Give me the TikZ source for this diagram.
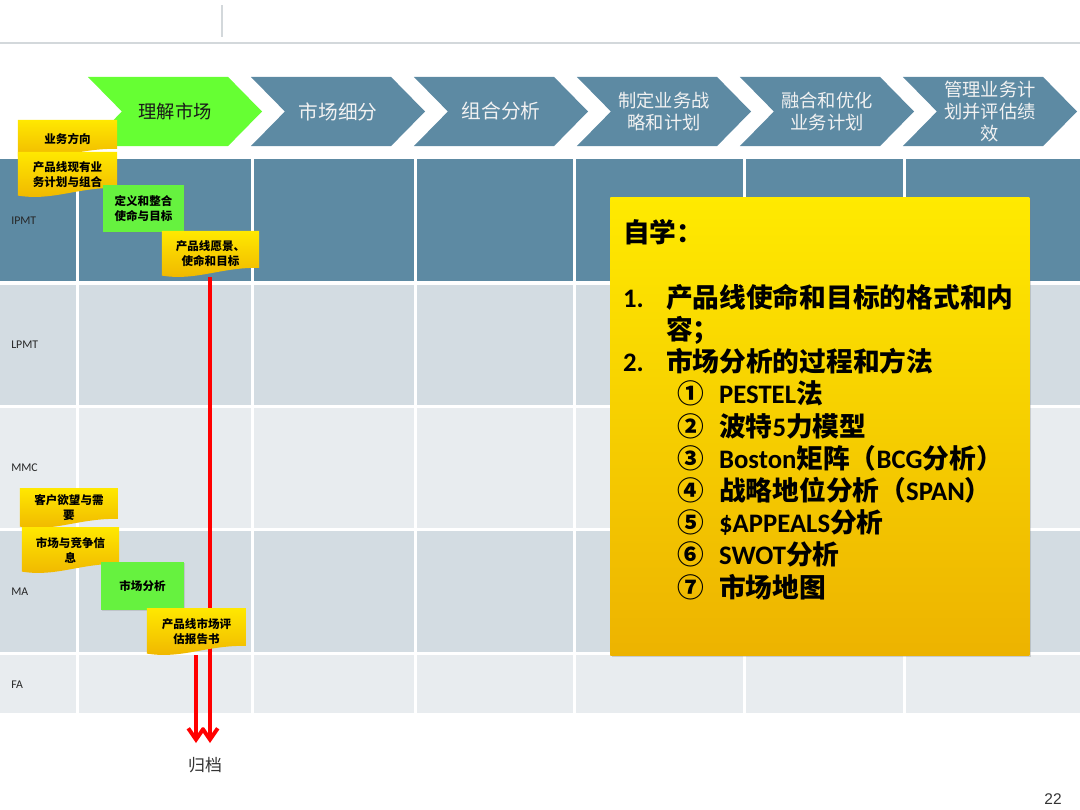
\documentclass[tikz,border=0pt]{standalone}
\usepackage{fontspec}
\setmainfont{Carlito}
\newfontfamily\cjk{Noto Sans CJK SC}
\newfontfamily\lat{Carlito}
\newfontfamily\arial{Liberation Sans}
\usetikzlibrary{shapes.symbols,arrows.meta,calc,shadows}

\definecolor{steel}{HTML}{5D8AA3}
\definecolor{paleA}{HTML}{D3DCE2}
\definecolor{paleB}{HTML}{E8ECEF}
\definecolor{lime}{HTML}{66FF33}
\definecolor{notegreen}{HTML}{66F23F}
\definecolor{notetop}{HTML}{FFE800}
\definecolor{notebot}{HTML}{EFB400}
\definecolor{boxtop}{HTML}{FFEA00}
\definecolor{boxbot}{HTML}{EDB300}
\definecolor{rule}{HTML}{D3D8DB}

\tikzset{
  phase/.style={signal, signal to=east, signal from=west, signal pointer angle=91,
    fill=steel, text=white!95!black, minimum width=4.35cm, minimum height=1.725cm,
    inner sep=0pt, align=center, font=\cjk\fontsize{13}{15.5}\selectfont},
  lane/.style={anchor=west, inner sep=0pt, text=black!85, font=\lat\fontsize{8.4}{10}\selectfont},
  note/.style={inner sep=0pt, align=center, font=\cjk\bfseries\fontsize{8.2}{10.7}\selectfont,
    path picture={
      \shade[top color=notetop, bottom color=notebot]
        (path picture bounding box.north west) -- (path picture bounding box.north east)
        -- ([yshift=6.5pt]path picture bounding box.south east)
        .. controls ($(path picture bounding box.south west)!0.6!(path picture bounding box.south east)+(0,7pt)$)
        and ($(path picture bounding box.south west)!0.35!(path picture bounding box.south east)+(0,-3pt)$)
        .. ([yshift=1pt]path picture bounding box.south west) -- cycle;}},
  gnote/.style={inner sep=0pt, align=center, fill=notegreen, font=\cjk\bfseries\fontsize{8.2}{10.7}\selectfont,
    drop shadow={opacity=0.25, shadow xshift=0.8pt, shadow yshift=-0.8pt}},
  archive/.style={draw=red, line width=2.8pt, -{Straight Barb[length=8pt,width=11pt]}}
}

\begin{document}
\begin{tikzpicture}[x=0.025cm,y=-0.025cm]
\useasboundingbox (0,0) rectangle (1080,810);
% header rules
\draw[rule, line width=0.9pt] (0,43) -- (1080,43);
\draw[rule, line width=1.2pt] (222,5) -- (222,37);

% phases
\node[phase, fill=lime, text=black!90] (p1) at (175,111.5) {理解市场};
\node[phase, font=\cjk\fontsize{14}{16}\selectfont] (p2) at (338,111.5) {市场细分};
\node[phase, font=\cjk\fontsize{14}{16}\selectfont] (p3) at (501,111.5) {组合分析};
\node[phase] (p4) at (664,111.5) {制定业务战\\略和计划};
\node[phase] (p5) at (827,111.5) {融合和优化\\业务计划};
\node[phase] (p6) at (990,111.5) {管理业务计\\划并评估绩\\效};

% swimlanes
\foreach \ya/\yb/\col in {159/281/steel, 285/405/paleA, 408/528/paleB, 531/652/paleA, 655/713/paleB}
  \foreach \xa/\xb in {0/75.5, 78.5/250.5, 253.5/413.5, 416.5/572.5, 575.5/742.5, 745.5/902.5, 905.5/1080}
    \fill[\col] (\xa,\ya) rectangle (\xb,\yb);
\node[lane] (ipmt) at (11,221) {IPMT};
\node[lane] (lpmt) at (11,345) {LPMT};
\node[lane] (mmc) at (11,468) {MMC};
\node[lane] (ma) at (11,592) {MA};
\node[lane] (fa) at (11,685) {FA};

% inputs and outputs
\node[note, minimum width=2.475cm, minimum height=0.95cm] (dir) at (67.5,139) {业务方向};
\node[note, minimum width=2.475cm, minimum height=1.125cm] (cur) at (67.5,174.5) {产品线现有业\\务计划与组合};
\node[gnote, minimum width=2.025cm, minimum height=1.175cm] (def) at (143.5,208.5) {定义和整合\\使命与目标};
\node[note, minimum width=2.425cm, minimum height=1.15cm] (vis) at (210.5,254) {产品线愿景、\\使命和目标};

% archive
\coordinate (fileL) at (196,743);
\coordinate (fileR) at (210,743);
\draw[archive] (vis.south -| fileR) -- (fileR);

\node[note, minimum width=2.45cm, minimum height=1cm] (want) at (69,508) {客户欲望与需\\要};
\node[note, minimum width=2.425cm, minimum height=1.15cm] (info) at (70.5,550) {市场与竞争信\\息};
\node[gnote, minimum width=2.075cm, minimum height=1.2cm] (ana) at (142.5,586) {市场分析};
\node[note, minimum width=2.475cm, minimum height=1.175cm] (rep) at (196.5,631.5) {产品线市场评\\估报告书};

\draw[archive] (rep.south -| fileL) -- (fileL);
\node[font=\cjk\fontsize{12}{14}\selectfont, text=black!80] (filelbl) at (205,765) {归档};

% self study
\node[minimum width=10.475cm, minimum height=11.45cm, top color=boxtop, bottom color=boxbot,
  drop shadow={opacity=0.3, shadow xshift=1.2pt, shadow yshift=-1.2pt}, anchor=north west] (study) at (610,197) {};
\node[anchor=north west, inner sep=0pt, align=left, font=\cjk\bfseries\fontsize{19}{22.9}\selectfont]
  (list) at ([xshift=0.32cm,yshift=-0.56cm]study.north west) {%
  自学：\\[22.9pt]
  \makebox[30.6pt][l]{\lat 1.}产品线使命和目标的格式和内\\
  \hspace*{30.6pt}容；\\
  \makebox[30.6pt][l]{\lat 2.}市场分析的过程和方法\\
  \hspace*{39pt}\makebox[29.3pt][l]{①}{\lat PESTEL}法\\
  \hspace*{39pt}\makebox[29.3pt][l]{②}波特{\lat 5}力模型\\
  \hspace*{39pt}\makebox[29.3pt][l]{③}{\lat Boston}矩阵（{\lat BCG}分析）\\
  \hspace*{39pt}\makebox[29.3pt][l]{④}战略地位分析（{\lat SPAN}）\\
  \hspace*{39pt}\makebox[29.3pt][l]{⑤}{\lat \$APPEALS}分析\\
  \hspace*{39pt}\makebox[29.3pt][l]{⑥}{\lat SWOT}分析\\
  \hspace*{39pt}\makebox[29.3pt][l]{⑦}市场地图};

\node[font=\arial\fontsize{11}{13}\selectfont, text=black!80] (pg) at (1053,799) {22};
\end{tikzpicture}
\end{document}
